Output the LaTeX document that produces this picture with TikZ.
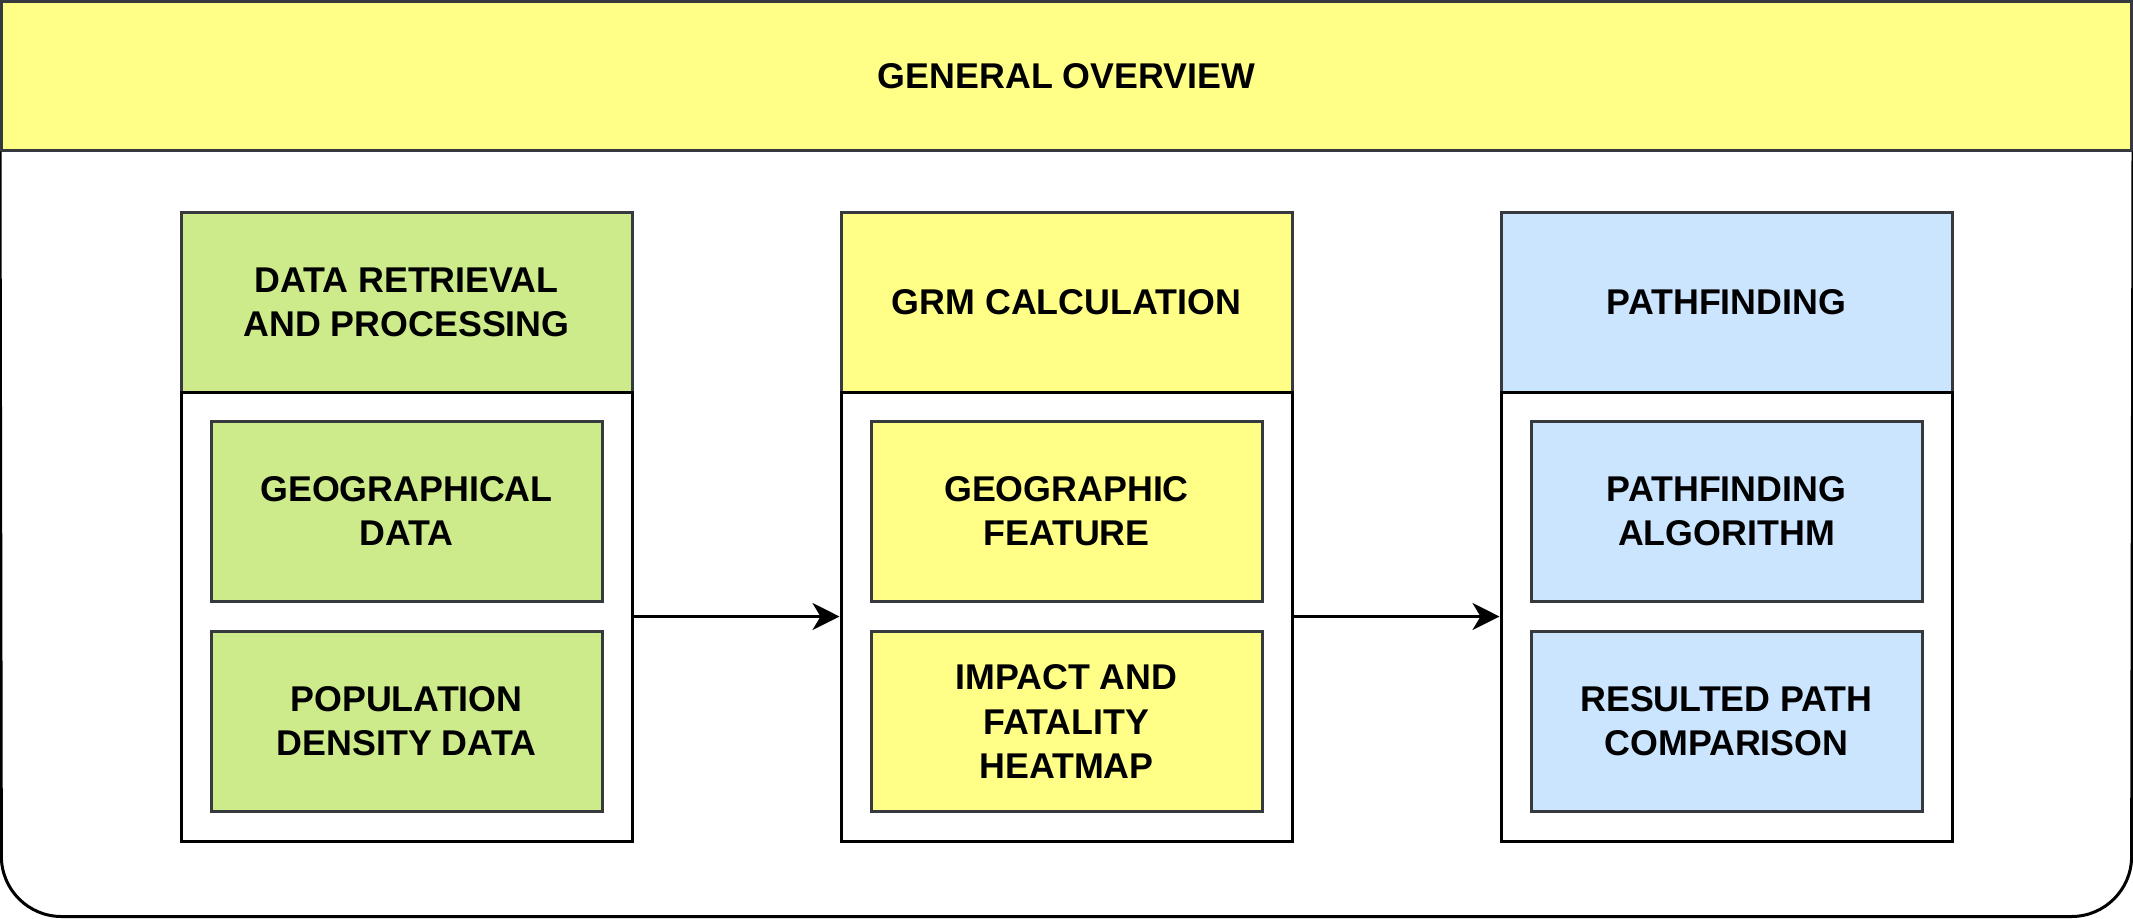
\documentclass[tikz,border=0pt]{standalone}
\usepackage{fontspec}
\setmainfont{Liberation Sans}
\usetikzlibrary{arrows.meta}
\definecolor{hdryellow}{HTML}{FFFF88}
\definecolor{dgreen}{HTML}{CDEB8B}
\definecolor{dblue}{HTML}{CCE5FF}
\definecolor{dstroke}{HTML}{36393D}
\tikzset{
  lbl/.style={font=\bfseries\fontsize{17.9pt}{22.15pt}\selectfont, align=center, text=black},
  colhead/.style={lbl, draw=dstroke, line width=1.5pt, minimum width=225.5pt, minimum height=90pt, inner sep=0pt},
  colbody/.style={draw=black, line width=1.5pt, fill=white, minimum width=225.5pt, minimum height=224.5pt, inner sep=0pt},
  itembox/.style={lbl, draw=dstroke, line width=1.5pt, minimum width=195.5pt, minimum height=90pt, inner sep=0pt},
  flow/.style={draw=black, line width=1.5pt, -{Stealth[length=13.5pt, width=13.5pt, inset=4pt]}}
}
\begin{document}
\begin{tikzpicture}[x=0.5pt, y=-0.5pt]
\useasboundingbox (0,0) rectangle (2133,918);
% overall container
\node[lbl, draw=dstroke, fill=hdryellow, line width=1.5pt, minimum width=1065pt, minimum height=74.25pt, inner sep=0pt] (hdr) at (1066.5,75.75) {GENERAL OVERVIEW};
\coordinate (bl) at (1.5,916.5);
\coordinate (br) at (2131.5,916.5);
\draw[black, line width=1.5pt, rounded corners=30pt] (hdr.south west) -- (bl) -- (br) -- (hdr.south east);
% column A
\node[colhead, fill=dgreen] (ha) at (406.5,302) {DATA RETRIEVAL\\AND PROCESSING};
\node[colbody] (ba) at (406.5,616.5) {};
\node[itembox, fill=dgreen] (a1) at (406.5,511) {GEOGRAPHICAL\\DATA};
\node[itembox, fill=dgreen] (a2) at (406.5,721.5) {POPULATION\\DENSITY DATA};
% column B
\node[colhead, fill=hdryellow] (hb) at (1066.5,302) {GRM CALCULATION};
\node[colbody] (bb) at (1066.5,616.5) {};
\node[itembox, fill=hdryellow] (b1) at (1066.5,511) {GEOGRAPHIC\\FEATURE};
\node[itembox, fill=hdryellow] (b2) at (1066.5,721.5) {IMPACT AND\\FATALITY\\HEATMAP};
% column C
\node[colhead, fill=dblue] (hc) at (1726.5,302) {PATHFINDING};
\node[colbody] (bc) at (1726.5,616.5) {};
\node[itembox, fill=dblue] (c1) at (1726.5,511) {PATHFINDING\\ALGORITHM};
\node[itembox, fill=dblue] (c2) at (1726.5,721.5) {RESULTED PATH\\COMPARISON};
% connectors
\draw[flow] (ba.east) -- (bb.west);
\draw[flow] (bb.east) -- (bc.west);
\end{tikzpicture}
\end{document}
